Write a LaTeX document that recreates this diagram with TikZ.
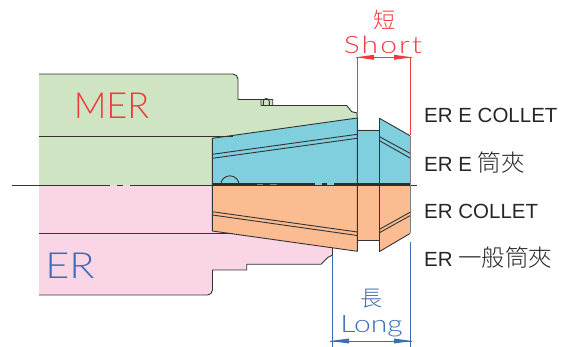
\documentclass[tikz,border=0pt]{standalone}
\usepackage{fontspec}
\setmainfont{Liberation Sans}
\newfontfamily\cjkfont{Noto Sans CJK TC}[UprightFont=* Light]
\newfontfamily\cjkthin{Noto Sans CJK TC}[UprightFont=* Light]
\newfontfamily\cadfont{Lato}[UprightFont=* Light]
\newfontfamily\cadwide{Lato}[UprightFont=* Light,LetterSpace=7]
\definecolor{greenfill}{HTML}{CFE4C2}
\definecolor{pinkfill}{HTML}{F9D5E6}
\definecolor{bluefill}{HTML}{80CFDF}
\definecolor{orangefill}{HTML}{FBBC92}
\definecolor{outline}{HTML}{333333}
\definecolor{redcad}{HTML}{EE3B3B}
\definecolor{bluecad}{HTML}{3A6DB5}
\tikzset{
  x=1pt,y=-1pt,
  contour/.style={draw=outline,line width=0.9pt,line join=round},
  thinline/.style={draw=outline,line width=0.7pt},
  reddim/.style={draw=redcad,line width=0.9pt},
  bluedim/.style={draw=bluecad,line width=0.9pt},
  label/.style={anchor=west,inner sep=0pt,text=black!85,font=\fontsize{20.5}{22}\selectfont},
  cadred/.style={inner sep=0pt,text=redcad},
  cadblue/.style={inner sep=0pt,text=bluecad},
}
\begin{document}
\begin{tikzpicture}
\useasboundingbox (0,0) rectangle (574,347);
% body fills
\fill[greenfill] (39,74) -- (233,74) arc[start angle=-90,end angle=0,radius=5] -- (238,99.5) -- (272.7,99.5) -- (272.7,105.5) -- (346.7,105.5) -- (351.7,111.7) -- (357,113) -- (357,185) -- (39,185) -- cycle;
\fill[pinkfill] (39,185) -- (357,185) -- (357,248) -- (332.5,248) -- (332.5,255) -- (328,257.3) -- (321,264.3) -- (246.7,264.3) -- (246.7,270) -- (212.5,270) -- (212.5,290) arc[start angle=0,end angle=90,radius=5] -- (39,295) -- cycle;
% collets
\fill[bluefill] (212.3,138.3) -- (357.3,118) -- (357.3,130) -- (379.5,130) -- (379.5,118.3) -- (410,135.7) -- (410,185) -- (212.3,185) -- cycle;
\fill[orangefill] (212.3,185) -- (410,185) -- (410,233.5) -- (379.5,251.5) -- (379.5,240) -- (357.3,240) -- (357.3,251) -- (212.3,231) -- cycle;
\fill[white] (332.6,248.1) -- (357.3,251.3) -- (357.3,258) -- (332.6,258) -- cycle;
% body outlines
\draw[contour] (39,74) -- (233,74) arc[start angle=-90,end angle=0,radius=5] -- (238,99.5) -- (261,99.5) -- (261,105.5) -- (272.7,105.5) -- (272.7,99.5) -- (261,99.5) (272.7,105.5) -- (346.7,105.5) -- (351.7,111.7) -- (357,113) -- (357.3,118);
\draw[contour] (263.3,105.5) -- (263.3,101.5) arc[start angle=180,end angle=360,radius=3] -- (269.3,105.5);
\draw[contour] (332.5,248) -- (332.5,255) -- (328,257.3) -- (321,264.3) -- (246.7,264.3) -- (246.7,270) -- (212.5,270) -- (212.5,290) arc[start angle=0,end angle=90,radius=5] -- (39,295);
\draw[thinline] (39,136) -- (233,136);
\draw[thinline] (39,233.3) -- (233,233.3);
\draw[thinline] (12,185) -- (110,185);
\draw[thinline] (117,185) -- (123,185);
\draw[thinline] (130,185) -- (417,185);
% collet outlines
\draw[contour] (212.3,185) -- (212.3,138.3) -- (357.3,118) -- (357.3,251.3) -- (212.3,231) -- cycle;
\draw[contour] (357.3,130) -- (379.5,130) (357.3,240) -- (379.5,240);
\draw[contour] (410,135.7) -- (379.5,118.3) -- (379.5,251.5) -- (410,233.5);
\draw[draw=gray,line width=0.9pt] (410,135.7) -- (410,233.5);
% slots
\draw[contour] (212.3,154.3) -- (357.3,134.3) (212.3,158.3) -- (357.3,138.3);
\draw[contour] (379.5,136.7) -- (410,153.3) (379.5,140.7) -- (410,158);
\draw[contour] (212.3,211.7) -- (357.3,232) (212.3,215) -- (357.3,235.5);
\draw[contour] (379.5,229.3) -- (410,212.3) (379.5,232.7) -- (410,215.7);
% ball
\draw[contour] (220.7,185) arc[start angle=180,end angle=360,radius=9.2];
% heavy centre line
\draw[draw=outline!90!black,line width=2.4pt] (212.3,184.6) -- (315,184.6) (321.7,184.6) -- (327.3,184.6) (334.3,184.6) -- (410,184.6);
\draw[draw=gray,line width=1pt] (257,184.6) -- (263,184.6) (270,184.6) -- (277,184.6);
% red dimension
\draw[reddim] (357.7,57) -- (357.7,113);
\draw[reddim] (410,57) -- (410,135);
\draw[reddim] (356,57.3) -- (412,57.3);
\fill[redcad] (356,57.3) -- (374,54.8) -- (374,59.8) -- cycle;
\fill[redcad] (412,57.3) -- (394,54.8) -- (394,59.8) -- cycle;
% blue dimension
\draw[bluedim] (332,255) -- (332,347);
\draw[bluedim] (410,242) -- (410,347);
\draw[bluedim] (330,341) -- (412,341);
\fill[bluecad] (330,341) -- (349,338.5) -- (349,343.5) -- cycle;
\fill[bluecad] (412,341) -- (394,338.5) -- (394,343.5) -- cycle;
% texts
\node[cadred] (mer) at (111.5,106) {\cadfont\fontsize{36}{36}\selectfont MER};
\node[cadblue,xscale=1.15] (er) at (70,265.5) {\cadfont\fontsize{36}{36}\selectfont ER};
\node[cadred,xscale=1.25,anchor=base] (short) at (383,53.5) {\cadwide\fontsize{24}{24}\selectfont Short};
\node[cadred] (duan) at (384,20) {\cjkthin\fontsize{22}{22}\selectfont 短};
\node[cadblue,xscale=1.25,anchor=base] (long) at (371.5,333) {\cadfont\fontsize{24}{24}\selectfont Long};
\node[cadblue] (chang) at (371,298.5) {\cjkthin\fontsize{22}{22}\selectfont 長};
\node[label] (l1) at (424,115) {ER E COLLET};
\node[label] (l2) at (424,163) {ER E {\cjkfont\fontsize{23.5}{24}\selectfont 筒夾}};
\node[label] (l3) at (424,211) {ER COLLET};
\node[label] (l4) at (424,258) {ER {\cjkfont\fontsize{23.5}{24}\selectfont 一般筒夾}};
\end{tikzpicture}
\end{document}
